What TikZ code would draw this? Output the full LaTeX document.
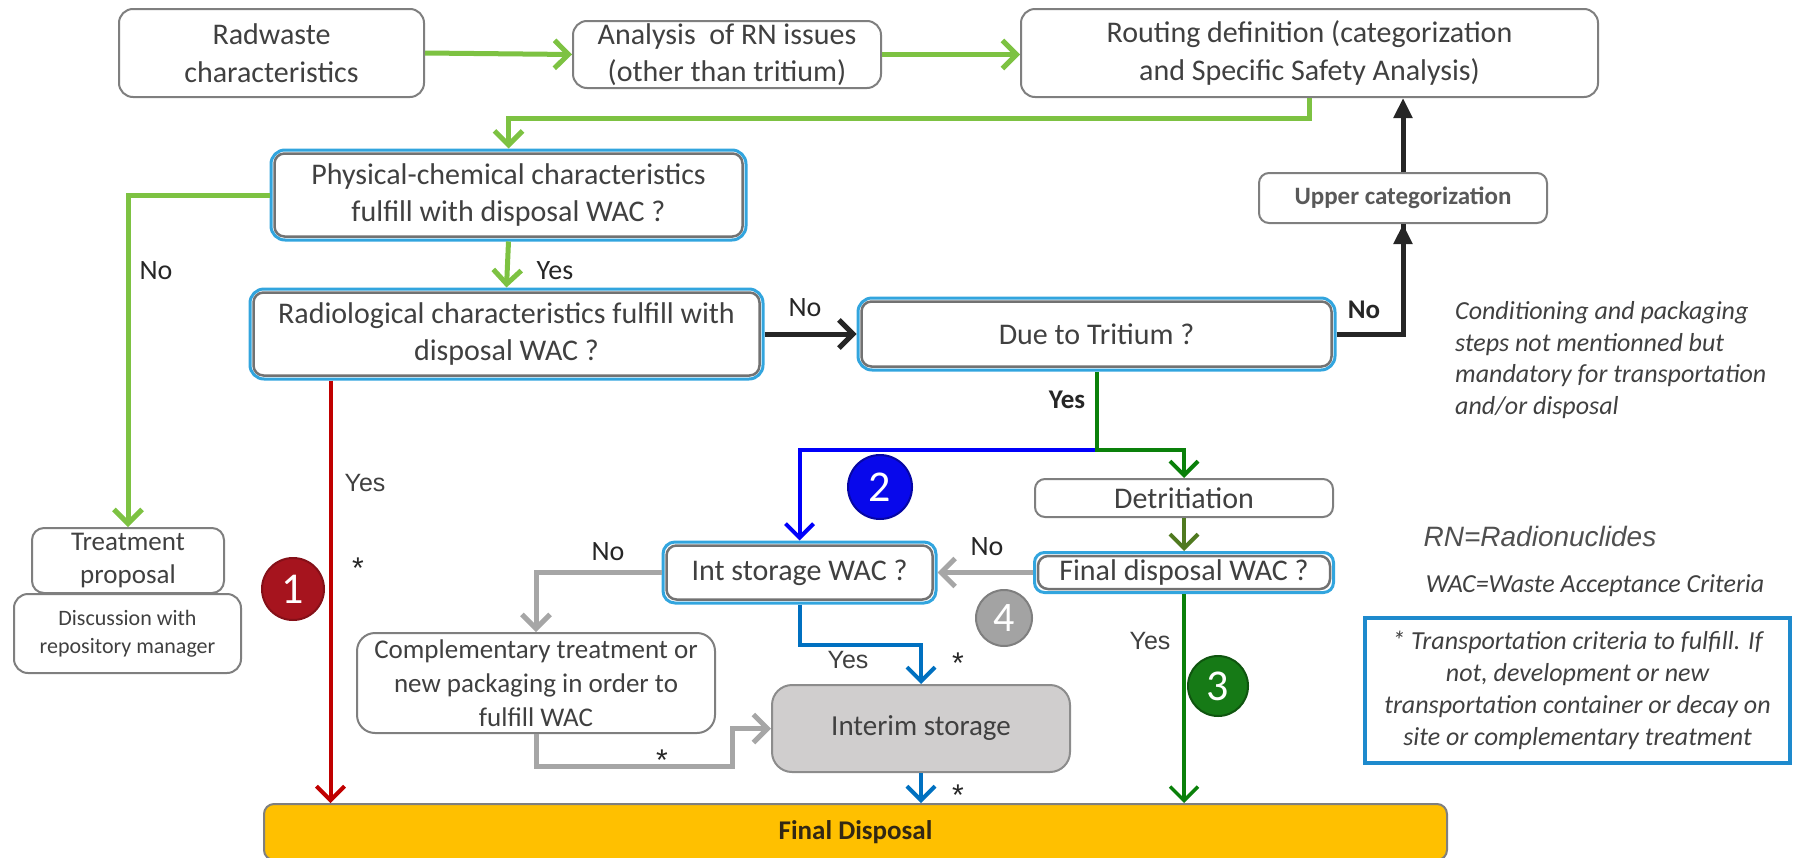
\documentclass[tikz,border=0pt]{standalone}
\usepackage{fontspec}
\setmainfont{Carlito}
\newfontfamily\arialf{Liberation Sans}
\usetikzlibrary{arrows.meta,calc}
\definecolor{lgreen}{RGB}{125,194,66}
\definecolor{dgreen}{RGB}{10,128,10}
\definecolor{ogreen}{RGB}{80,122,32}
\definecolor{pblue}{RGB}{0,0,250}
\definecolor{mblue}{RGB}{0,112,192}
\definecolor{dred}{RGB}{192,0,0}
\definecolor{lgray}{RGB}{166,166,166}
\definecolor{kline}{RGB}{38,38,38}
\definecolor{boxgray}{RGB}{127,127,127}
\definecolor{txt}{RGB}{64,64,64}
\definecolor{cyanb}{RGB}{50,165,222}
\definecolor{noteb}{RGB}{30,138,205}
\definecolor{fdis}{RGB}{255,192,0}
\definecolor{intfill}{RGB}{208,206,206}
\definecolor{c1}{RGB}{166,20,30}
\definecolor{c2}{RGB}{8,8,235}
\definecolor{c3}{RGB}{22,122,22}
\definecolor{c4}{RGB}{163,163,163}
\newcommand\fsz[1]{\fontsize{#1}{\dimexpr #1pt*5/4\relax}\selectfont}
\tikzset{
  box/.style={draw=boxgray, line width=2pt, rounded corners=14pt, fill=white, align=center, text=txt, font=\fsz{30}, inner sep=0pt},
  dbox/.style={box, draw=cyanb, line width=3pt},
  innerb/.style={draw=boxgray!90!black, line width=2.5pt, rounded corners=10pt},
  lab/.style={text=kline, font=\fsz{28}, inner sep=0pt},
  alab/.style={text=txt, font=\arialf\fontsize{25}{29}\selectfont, inner sep=0pt},
  ast/.style={text=kline, font=\arialf\fontsize{30}{34}\selectfont, inner sep=0pt},
  circ/.style={circle, minimum size=62pt, inner sep=0pt, text=white, font=\fsz{44}, line width=2pt},
  barb/.style={-{Straight Barb[length=14pt,width=28pt]}},
  garr/.style={barb, draw=lgreen, line width=5pt},
  karr/.style={barb, draw=kline, line width=5pt},
  kline/.style={draw=kline, line width=5pt},
  kfill/.style={-{Triangle[length=20pt,width=18pt]}, draw=kline, line width=5pt},
  dgarr/.style={barb, draw=dgreen, line width=4pt},
  oarr/.style={barb, draw=ogreen, line width=4pt},
  barr/.style={barb, draw=pblue, line width=4pt},
  b2arr/.style={barb, draw=mblue, line width=4pt},
  grarr/.style={barb, draw=lgray, line width=5pt},
  rarr/.style={barb, draw=dred, line width=4pt},
}
\begin{document}
\begin{tikzpicture}[x=1pt,y=-1pt]
\useasboundingbox (0,0) rectangle (1804,857);

% top row
\node[box, minimum width=305pt, minimum height=88pt] (rad) at (271.5,53) {Radwaste\\characteristics};
\node[box, minimum width=308pt, minimum height=67pt] (ana) at (727,54.5) {Analysis\ \ of RN issues\\(other than tritium)};
\node[box, minimum width=577pt, minimum height=88pt] (rout) at (1309.5,53) {Routing definition (categorization\\and Specific Safety Analysis)};

% decision boxes
\node[dbox, minimum width=475pt, minimum height=90pt] (phys) at (508.5,195) {Physical-chemical characteristics\\fulfill with disposal WAC ?};
\node[dbox, minimum width=513pt, minimum height=90pt] (radio) at (506.5,334) {Radiological characteristics fulfill with\\disposal WAC ?};
\node[dbox, minimum width=477pt, minimum height=72pt] (trit) at (1096.5,334) {Due to Tritium ?};
\node[box, minimum width=288pt, minimum height=50pt, font=\bfseries\fsz{25}, text={rgb,255:red,89;green,89;blue,89}, rounded corners=10pt] (upper) at (1403,198) {Upper categorization};
\node[box, minimum width=298pt, minimum height=38pt, rounded corners=10pt] (detr) at (1184,498) {Detritiation};
\node[dbox, minimum width=299pt, minimum height=40pt, rounded corners=10pt] (fwac) at (1184,572.5) {Final disposal WAC ?};
\node[dbox, minimum width=273pt, minimum height=61pt, rounded corners=12pt] (iwac) at (799.5,572.5) {Int storage WAC ?};
\node[box, minimum width=358pt, minimum height=100pt, font=\fsz{27}, rounded corners=18pt] (comp) at (536,683) {Complementary treatment or\\new packaging in order to\\fulfill WAC};
\node[box, minimum width=298pt, minimum height=87pt, fill=intfill, draw=boxgray!90, rounded corners=20pt, font=\fsz{29}] (inter) at (921,728.5) {Interim storage};
\node[box, minimum width=1183pt, minimum height=56pt, fill=fdis, draw=boxgray, rounded corners=10pt, font=\bfseries\fsz{27}, text={rgb,255:red,50;green,40;blue,20}] (fin) at (855.5,832) {Final Disposal};
\node[box, minimum width=192pt, minimum height=65pt, font=\fsz{27}, rounded corners=12pt] (treat) at (128,560.5) {Treatment\\proposal};
\node[box, minimum width=227pt, minimum height=79pt, font=\fontsize{22}{28}\selectfont, rounded corners=14pt] (disc) at (127.5,633.5) {Discussion with\\repository manager};

% inner borders of double boxes
\foreach \n in {phys,radio,trit,fwac,iwac}
  \draw[innerb] ([shift={(5pt,-5pt)}]\n.north west) rectangle ([shift={(-5pt,5pt)}]\n.south east);

% connectors
\draw[garr] (rad.east) -- (ana.west);
\draw[garr] (ana.east) -- (ana.east -| rout.west);
\draw[garr] (rout.south) -- ++(0,20) -| (phys.north);
\draw[garr] (phys.south) -- (radio.north);
\draw[garr] (phys.west) -| (treat.north);
\draw[karr] (radio.east) -- (trit.west);
\draw[kline] (trit.east) -| (upper.south);
\draw[kfill] (trit.east -| upper.south) -- (upper.south);
\draw[kfill] (upper.north) -- (upper.north |- rout.south);
\coordinate (jn) at ($(trit.south)+(0,78)$);
\draw[barr] (jn) -| (iwac.north);
\draw[dgarr] (trit.south) -- (jn) -| (detr.north);
\draw[oarr] (detr.south) -- (fwac.north);
\draw[grarr] (fwac.west) -- (iwac.east);
\draw[grarr] (iwac.west) -| (comp.north);
\draw[b2arr] (iwac.south) -- ++(0,40) -| (inter.north);
\coordinate (cbend) at ($(inter.west)+(-39,0)$);
\draw[grarr] (comp.south) -- ++(0,32) -| (cbend) -- (inter.west);
\draw[b2arr] (inter.south) -- (inter.south |- fin.north);
\draw[rarr] ([xshift=82pt]radio.south west) -- ([xshift=82pt]radio.south west |- fin.north);
\draw[dgarr, line width=3.5pt] (fwac.south) -- (fwac.south |- fin.north);

% circles
\node[circ, fill=c1, draw=c1!80!black] (n1) at (293,589) {1};
\node[circ, fill=c2, draw=c2!70!black, minimum size=64pt] (n2) at (880,487) {2};
\node[circ, fill=c3, draw=c3!70!black, minimum size=60pt] (n3) at (1218,686) {3};
\node[circ, fill=c4, draw=boxgray, minimum size=56pt, font=\fsz{42}] (n4) at (1004,618) {4};

% labels
\node[lab] (l1) at (156,271) {No};
\node[lab] (l2) at (555,271) {Yes};
\node[lab] (l3) at (805,308) {No};
\node[alab] (l4) at (365,483) {Yes};
\node[ast] (l5) at (358,568) {*};
\node[lab, font=\bfseries\fsz{27}] (l6) at (1364,310) {No};
\node[lab, font=\bfseries\fsz{27}] (l7) at (1067,400) {Yes};
\node[lab] (l8) at (987,547) {No};
\node[lab] (l9) at (608,552) {No};
\node[alab] (l10) at (848,660) {Yes};
\node[ast] (l11) at (958,663) {*};
\node[ast] (l12) at (662,760) {*};
\node[ast] (l13) at (958,795) {*};
\node[alab] (l14) at (1150,641) {Yes};

% side notes
\node[anchor=west, align=left, text=txt, font=\itshape\fontsize{26}{31.5}\selectfont, inner sep=0pt] (cond) at (1455,360) {Conditioning and packaging\\steps not mentionned but\\mandatory for transportation\\and/or disposal};
\node[text={rgb,255:red,80;green,80;blue,80}, font=\arialf\itshape\fontsize{28}{32}\selectfont, inner sep=0pt] (rn) at (1540,536) {RN=Radionuclides};
\node[text=txt, font=\itshape\fontsize{26}{30}\selectfont, inner sep=0pt] (wac) at (1595,586) {WAC=Waste Acceptance Criteria};
\node[draw=noteb, line width=3.5pt, minimum width=425pt, minimum height=145pt, align=center, text=txt, font=\itshape\fontsize{26}{32}\selectfont, inner sep=0pt] (note) at (1577.5,690.5) {* Transportation criteria to fulfill. If\\not, development or new\\transportation container or decay on\\site or complementary treatment};
\end{tikzpicture}
\end{document}
